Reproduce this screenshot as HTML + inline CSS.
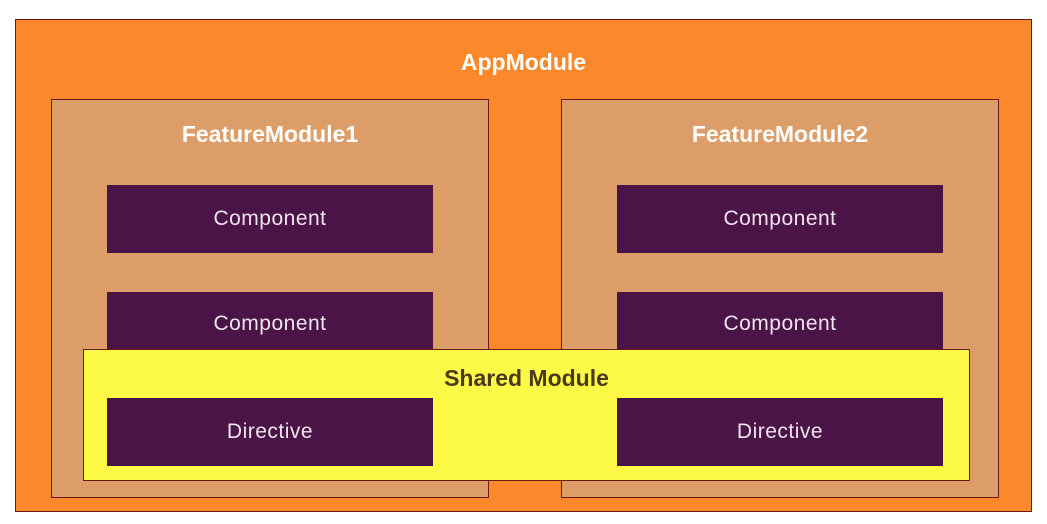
<!DOCTYPE html>
<html><head><style>
body{margin:0;width:1047px;height:524px;background:#fff;position:relative;overflow:hidden;font-family:"Liberation Sans",sans-serif}
div{position:absolute;box-sizing:border-box}
.o{left:15px;top:19px;width:1017px;height:493px;background:#fb882b;border:1px solid #6b1a12}
.f{top:99px;width:438px;height:399px;background:#dd9d68;border:1px solid #6b1a12}
.s{left:83px;top:349px;width:887px;height:132px;background:#fcf947;border:1px solid #6b1a12}
.c{width:326px;height:68px;background:#4a1446;color:#f0e4ee;font-size:21px;display:flex;align-items:center;justify-content:center;letter-spacing:0.5px}
.t{color:#fff;font-weight:bold;font-size:23px;text-align:center}
</style></head><body>
<div class="o"></div>
<div class="t" style="left:15px;width:1017px;top:49px">AppModule</div>
<div class="f" style="left:51px"></div>
<div class="f" style="left:561px"></div>
<div class="t" style="left:51px;width:438px;top:121px">FeatureModule1</div>
<div class="t" style="left:561px;width:438px;top:121px">FeatureModule2</div>
<div class="c" style="left:107px;top:185px">Component</div>
<div class="c" style="left:617px;top:185px">Component</div>
<div class="c" style="left:107px;top:292px;align-items:flex-start;padding-top:20px">Component</div>
<div class="c" style="left:617px;top:292px;align-items:flex-start;padding-top:20px">Component</div>
<div class="s"></div>
<div class="t" style="left:83px;width:887px;top:365px;color:#4a3a1a">Shared Module</div>
<div class="c" style="left:107px;top:398px">Directive</div>
<div class="c" style="left:617px;top:398px">Directive</div>
</body></html>
